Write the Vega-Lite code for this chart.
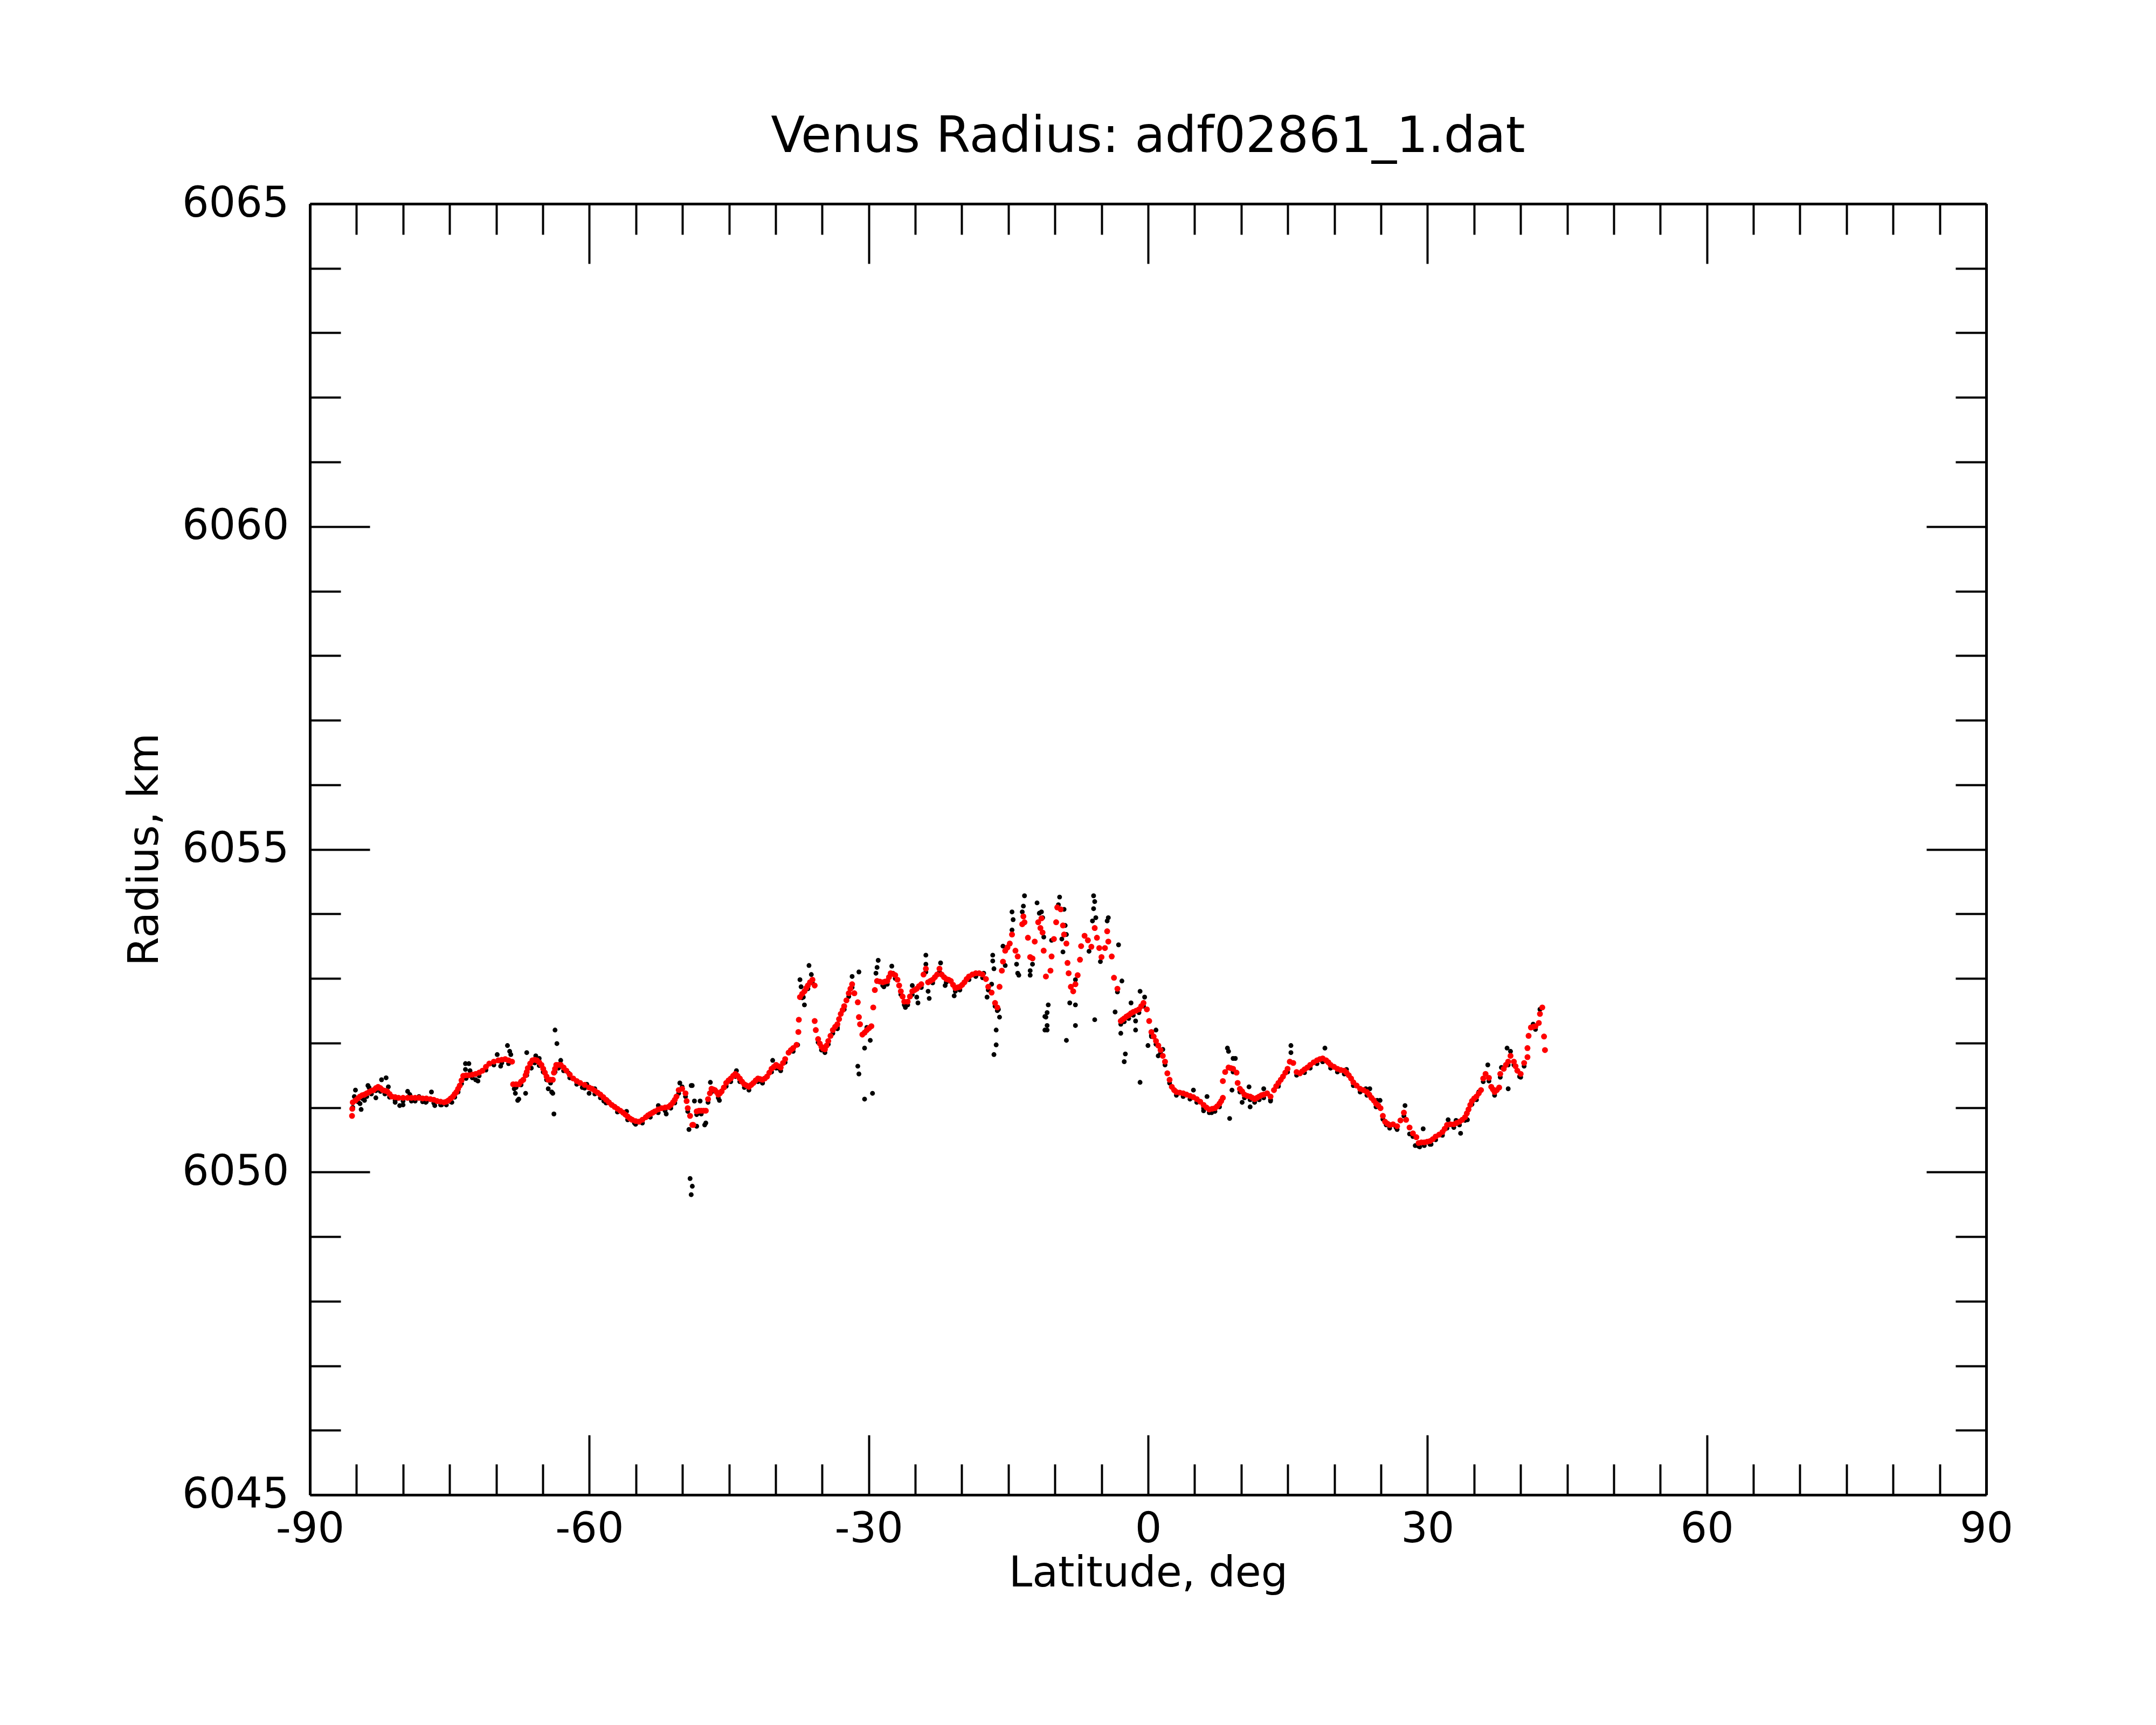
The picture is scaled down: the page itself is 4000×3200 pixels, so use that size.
{
  "$schema": "https://vega.github.io/schema/vega-lite/v6.json",
  "width": 3110,
  "height": 2395,
  "autosize": "none",
  "padding": {"left": 575, "top": 378, "right": 315, "bottom": 427},
  "background": "white",
  "title": {
    "text": "Venus Radius: adf02861_1.dat",
    "font": "DejaVu Sans",
    "fontSize": 92,
    "fontWeight": "normal",
    "color": "black",
    "anchor": "middle",
    "frame": "group",
    "baseline": "alphabetic",
    "offset": -35
  },
  "datasets": {
    "raw": [
      {"lat": -85.40, "r": 6051.00}, {"lat": -84.85, "r": 6051.09}, {"lat": -84.38, "r": 6051.14}, {"lat": -83.90, "r": 6051.17},
      {"lat": -83.40, "r": 6051.21}, {"lat": -82.92, "r": 6051.26}, {"lat": -82.43, "r": 6051.25}, {"lat": -81.95, "r": 6051.21},
      {"lat": -81.45, "r": 6051.16}, {"lat": -80.85, "r": 6051.11}, {"lat": -80.00, "r": 6051.10}, {"lat": -79.10, "r": 6051.10},
      {"lat": -78.70, "r": 6051.10}, {"lat": -77.90, "r": 6051.09}, {"lat": -77.50, "r": 6051.09}, {"lat": -76.70, "r": 6051.07},
      {"lat": -75.97, "r": 6051.04}, {"lat": -75.35, "r": 6051.04}, {"lat": -74.88, "r": 6051.09}, {"lat": -74.45, "r": 6051.16},
      {"lat": -74.09, "r": 6051.24}, {"lat": -73.72, "r": 6051.37}, {"lat": -73.23, "r": 6051.45}, {"lat": -72.56, "r": 6051.46},
      {"lat": -71.83, "r": 6051.49}, {"lat": -71.10, "r": 6051.58}, {"lat": -70.25, "r": 6051.66}, {"lat": -69.40, "r": 6051.69},
      {"lat": -68.67, "r": 6051.68}, {"lat": -67.87, "r": 6051.31}, {"lat": -67.33, "r": 6051.35}, {"lat": -66.72, "r": 6051.50},
      {"lat": -66.35, "r": 6051.63}, {"lat": -65.87, "r": 6051.69}, {"lat": -65.38, "r": 6051.65}, {"lat": -64.95, "r": 6051.55},
      {"lat": -64.59, "r": 6051.43}, {"lat": -64.16, "r": 6051.38}, {"lat": -63.68, "r": 6051.55}, {"lat": -63.31, "r": 6051.61},
      {"lat": -62.76, "r": 6051.57}, {"lat": -62.10, "r": 6051.46}, {"lat": -61.35, "r": 6051.36}, {"lat": -60.50, "r": 6051.30},
      {"lat": -59.41, "r": 6051.21}, {"lat": -58.81, "r": 6051.15}, {"lat": -58.20, "r": 6051.07}, {"lat": -56.98, "r": 6050.93},
      {"lat": -55.88, "r": 6050.81}, {"lat": -55.03, "r": 6050.74}, {"lat": -54.30, "r": 6050.76}, {"lat": -53.45, "r": 6050.85},
      {"lat": -52.60, "r": 6050.92}, {"lat": -51.86, "r": 6050.95}, {"lat": -51.25, "r": 6050.99}, {"lat": -50.82, "r": 6051.07},
      {"lat": -50.40, "r": 6051.22}, {"lat": -49.67, "r": 6051.17}, {"lat": -49.43, "r": 6050.94},
      {"lat": -48.47, "r": 6050.89}, {"lat": -47.98, "r": 6050.90}, {"lat": -47.25, "r": 6051.08}, {"lat": -46.88, "r": 6051.24},
      {"lat": -46.15, "r": 6051.15}, {"lat": -45.30, "r": 6051.33}, {"lat": -44.81, "r": 6051.40}, {"lat": -44.32, "r": 6051.48},
      {"lat": -43.84, "r": 6051.40}, {"lat": -43.35, "r": 6051.31}, {"lat": -42.86, "r": 6051.27}, {"lat": -41.89, "r": 6051.40},
      {"lat": -41.40, "r": 6051.38}, {"lat": -40.43, "r": 6051.55}, {"lat": -39.94, "r": 6051.61}, {"lat": -39.45, "r": 6051.57},
      {"lat": -38.97, "r": 6051.70}, {"lat": -38.11, "r": 6051.87}, {"lat": -37.14, "r": 6052.70}, {"lat": -36.53, "r": 6052.84},
      {"lat": -36.04, "r": 6052.93}, {"lat": -35.43, "r": 6052.01}, {"lat": -35.07, "r": 6051.89}, {"lat": -34.70, "r": 6051.85},
      {"lat": -34.34, "r": 6051.98}, {"lat": -33.85, "r": 6052.15}, {"lat": -33.36, "r": 6052.24}, {"lat": -32.63, "r": 6052.52},
      {"lat": -32.14, "r": 6052.72}, {"lat": -31.78, "r": 6052.86}, {"lat": -28.49, "r": 6052.89}, {"lat": -28.00, "r": 6052.91},
      {"lat": -27.15, "r": 6053.00}, {"lat": -26.55, "r": 6052.75}, {"lat": -26.18, "r": 6052.59}, {"lat": -25.81, "r": 6052.59},
      {"lat": -25.32, "r": 6052.75}, {"lat": -24.35, "r": 6052.86}, {"lat": -23.86, "r": 6053.10}, {"lat": -23.13, "r": 6052.93},
      {"lat": -22.40, "r": 6053.10}, {"lat": -21.67, "r": 6052.94}, {"lat": -20.70, "r": 6052.80}, {"lat": -20.21, "r": 6052.82},
      {"lat": -19.23, "r": 6052.98}, {"lat": -18.50, "r": 6053.03}, {"lat": -17.77, "r": 6053.01}, {"lat": -17.16, "r": 6052.82},
      {"lat": -16.43, "r": 6052.57}, {"lat": -16.19, "r": 6052.50},
      {"lat": -3.29, "r": 6052.79}, {"lat": -2.93, "r": 6052.29}, {"lat": -2.56, "r": 6052.33}, {"lat": -2.08, "r": 6052.38},
      {"lat": -1.59, "r": 6052.43}, {"lat": -0.98, "r": 6052.47}, {"lat": -0.49, "r": 6052.57}, {"lat": 0.36, "r": 6052.12},
      {"lat": 0.85, "r": 6051.98}, {"lat": 1.34, "r": 6051.84}, {"lat": 1.82, "r": 6051.66}, {"lat": 2.31, "r": 6051.38},
      {"lat": 3.04, "r": 6051.19}, {"lat": 3.77, "r": 6051.17}, {"lat": 4.50, "r": 6051.13}, {"lat": 5.23, "r": 6051.08},
      {"lat": 5.96, "r": 6050.99}, {"lat": 6.57, "r": 6050.92}, {"lat": 7.18, "r": 6050.94}, {"lat": 7.67, "r": 6051.01},
      {"lat": 9.13, "r": 6051.55}, {"lat": 9.86, "r": 6051.24}, {"lat": 10.35, "r": 6051.15}, {"lat": 10.96, "r": 6051.12},
      {"lat": 11.44, "r": 6051.08}, {"lat": 11.93, "r": 6051.12}, {"lat": 12.42, "r": 6051.15}, {"lat": 13.15, "r": 6051.12},
      {"lat": 14.00, "r": 6051.33}, {"lat": 14.98, "r": 6051.55}, {"lat": 15.95, "r": 6051.50}, {"lat": 16.80, "r": 6051.54},
      {"lat": 17.41, "r": 6051.61}, {"lat": 18.14, "r": 6051.68}, {"lat": 18.75, "r": 6051.71}, {"lat": 19.60, "r": 6051.61},
      {"lat": 20.33, "r": 6051.55}, {"lat": 21.07, "r": 6051.52}, {"lat": 22.04, "r": 6051.34}, {"lat": 22.77, "r": 6051.24},
      {"lat": 23.50, "r": 6051.19}, {"lat": 24.48, "r": 6051.01}, {"lat": 25.21, "r": 6050.82}, {"lat": 25.94, "r": 6050.68},
      {"lat": 26.74, "r": 6050.66}, {"lat": 27.47, "r": 6050.87}, {"lat": 28.44, "r": 6050.55}, {"lat": 29.05, "r": 6050.40},
      {"lat": 29.66, "r": 6050.41}, {"lat": 30.27, "r": 6050.43}, {"lat": 30.88, "r": 6050.50}, {"lat": 31.61, "r": 6050.57},
      {"lat": 32.10, "r": 6050.68}, {"lat": 32.83, "r": 6050.69}, {"lat": 33.44, "r": 6050.73}, {"lat": 34.04, "r": 6050.80},
      {"lat": 34.78, "r": 6051.05}, {"lat": 35.26, "r": 6051.12}, {"lat": 35.99, "r": 6051.40}, {"lat": 36.60, "r": 6051.41},
      {"lat": 37.21, "r": 6051.19}, {"lat": 37.82, "r": 6051.47}, {"lat": 38.67, "r": 6051.66}, {"lat": 39.28, "r": 6051.66},
      {"lat": 40.01, "r": 6051.47}, {"lat": 40.38, "r": 6051.64}, {"lat": 41.60, "r": 6052.21},

      {"lat": -85.11, "r": 6051.27}, {"lat": -85.23, "r": 6051.17}, {"lat": -84.50, "r": 6050.97}, {"lat": -84.62, "r": 6051.06},
      {"lat": -84.14, "r": 6051.11}, {"lat": -83.77, "r": 6051.34}, {"lat": -83.65, "r": 6051.31}, {"lat": -82.92, "r": 6051.15},
      {"lat": -82.31, "r": 6051.43}, {"lat": -81.82, "r": 6051.46}, {"lat": -81.58, "r": 6051.32}, {"lat": -80.85, "r": 6051.08},
      {"lat": -80.36, "r": 6051.03}, {"lat": -80.00, "r": 6051.04}, {"lat": -79.51, "r": 6051.25}, {"lat": -79.27, "r": 6051.20},
      {"lat": -78.29, "r": 6051.17}, {"lat": -77.56, "r": 6051.08}, {"lat": -76.95, "r": 6051.24}, {"lat": -76.59, "r": 6051.03},
      {"lat": -75.86, "r": 6051.04}, {"lat": -74.76, "r": 6051.08}, {"lat": -73.30, "r": 6051.68}, {"lat": -72.93, "r": 6051.68},
      {"lat": -73.30, "r": 6051.59}, {"lat": -72.81, "r": 6051.57}, {"lat": -72.20, "r": 6051.43}, {"lat": -71.96, "r": 6051.41},
      {"lat": -69.89, "r": 6051.82}, {"lat": -69.52, "r": 6051.64}, {"lat": -68.79, "r": 6051.96}, {"lat": -68.55, "r": 6051.87},
      {"lat": -68.43, "r": 6051.82}, {"lat": -68.06, "r": 6051.29}, {"lat": -67.94, "r": 6051.22}, {"lat": -67.69, "r": 6051.11},
      {"lat": -67.57, "r": 6051.13}, {"lat": -66.84, "r": 6051.22}, {"lat": -66.72, "r": 6051.85}, {"lat": -66.23, "r": 6051.61},
      {"lat": -65.75, "r": 6051.80}, {"lat": -65.38, "r": 6051.76}, {"lat": -64.41, "r": 6051.29}, {"lat": -64.04, "r": 6051.24},
      {"lat": -63.92, "r": 6051.22}, {"lat": -63.80, "r": 6050.90}, {"lat": -63.68, "r": 6052.20}, {"lat": -63.48, "r": 6051.99},
      {"lat": -63.07, "r": 6051.73}, {"lat": -62.21, "r": 6051.53}, {"lat": -60.75, "r": 6051.31}, {"lat": -60.27, "r": 6051.36},
      {"lat": -60.02, "r": 6051.22}, {"lat": -59.41, "r": 6051.29}, {"lat": -58.44, "r": 6051.10}, {"lat": -58.07, "r": 6051.11},
      {"lat": -56.00, "r": 6050.94}, {"lat": -55.15, "r": 6050.76}, {"lat": -52.59, "r": 6051.03}, {"lat": -52.47, "r": 6050.99},
      {"lat": -51.74, "r": 6050.90}, {"lat": -50.28, "r": 6051.38}, {"lat": -50.03, "r": 6051.32}, {"lat": -49.30, "r": 6050.66},
      {"lat": -49.06, "r": 6051.34}, {"lat": -49.18, "r": 6049.90}, {"lat": -48.94, "r": 6049.78}, {"lat": -49.06, "r": 6049.65},
      {"lat": -48.95, "r": 6051.34}, {"lat": -48.71, "r": 6051.10}, {"lat": -48.10, "r": 6051.10}, {"lat": -48.47, "r": 6050.71},
      {"lat": -47.61, "r": 6050.73}, {"lat": -47.49, "r": 6050.76}, {"lat": -47.00, "r": 6051.39}, {"lat": -46.03, "r": 6051.11},
      {"lat": -44.20, "r": 6051.57}, {"lat": -42.86, "r": 6051.31}, {"lat": -41.40, "r": 6051.38}, {"lat": -40.31, "r": 6051.73},
      {"lat": -39.70, "r": 6051.61}, {"lat": -36.41, "r": 6053.20}, {"lat": -37.38, "r": 6052.98}, {"lat": -37.26, "r": 6052.87},
      {"lat": -37.02, "r": 6052.71}, {"lat": -36.90, "r": 6052.59}, {"lat": -36.16, "r": 6053.06}, {"lat": -37.63, "r": 6051.97},
      {"lat": -34.70, "r": 6051.89}, {"lat": -33.36, "r": 6052.22}, {"lat": -31.78, "r": 6053.03}, {"lat": -31.05, "r": 6053.10},
      {"lat": -31.17, "r": 6051.64}, {"lat": -31.05, "r": 6051.52}, {"lat": -30.44, "r": 6051.13}, {"lat": -29.59, "r": 6051.22},
      {"lat": -30.44, "r": 6051.92}, {"lat": -29.83, "r": 6052.04}, {"lat": -30.20, "r": 6052.24}, {"lat": -28.98, "r": 6053.28},
      {"lat": -29.10, "r": 6053.17}, {"lat": -29.22, "r": 6053.08}, {"lat": -28.37, "r": 6052.87}, {"lat": -27.52, "r": 6053.19},
      {"lat": -27.40, "r": 6053.08}, {"lat": -26.06, "r": 6052.55}, {"lat": -25.32, "r": 6052.89}, {"lat": -24.84, "r": 6052.71},
      {"lat": -24.71, "r": 6052.62}, {"lat": -23.62, "r": 6052.80}, {"lat": -23.50, "r": 6052.69}, {"lat": -23.86, "r": 6053.36},
      {"lat": -23.86, "r": 6053.22}, {"lat": -22.28, "r": 6053.24}, {"lat": -21.79, "r": 6052.89}, {"lat": -20.82, "r": 6052.73},
      {"lat": -17.65, "r": 6053.08}, {"lat": -17.29, "r": 6052.71}, {"lat": -16.68, "r": 6053.36}, {"lat": -16.68, "r": 6053.27},
      {"lat": -16.55, "r": 6053.15}, {"lat": -16.80, "r": 6052.91}, {"lat": -16.07, "r": 6052.52}, {"lat": -15.95, "r": 6052.40},
      {"lat": -16.31, "r": 6052.20}, {"lat": -16.31, "r": 6051.97}, {"lat": -16.55, "r": 6051.82}, {"lat": -15.58, "r": 6053.50},
      {"lat": -15.34, "r": 6053.20}, {"lat": -14.61, "r": 6054.03}, {"lat": -14.49, "r": 6053.91}, {"lat": -14.61, "r": 6053.75},
      {"lat": -14.12, "r": 6053.22}, {"lat": -14.00, "r": 6053.08}, {"lat": -13.88, "r": 6053.05}, {"lat": -13.27, "r": 6054.28},
      {"lat": -13.39, "r": 6054.12}, {"lat": -13.51, "r": 6054.03}, {"lat": -12.66, "r": 6053.12}, {"lat": -12.41, "r": 6053.22},
      {"lat": -12.66, "r": 6053.05}, {"lat": -11.92, "r": 6054.17}, {"lat": -11.68, "r": 6054.01}, {"lat": -11.32, "r": 6053.94},
      {"lat": -11.20, "r": 6053.64}, {"lat": -11.08, "r": 6052.41}, {"lat": -11.08, "r": 6052.20},
      {"lat": -9.50, "r": 6054.26}, {"lat": -9.63, "r": 6054.14}, {"lat": -9.02, "r": 6054.07}, {"lat": -8.90, "r": 6053.82},
      {"lat": -9.26, "r": 6053.61}, {"lat": -9.14, "r": 6053.41}, {"lat": -11.45, "r": 6054.03}, {"lat": -10.36, "r": 6053.59},
      {"lat": -8.77, "r": 6053.68}, {"lat": -5.85, "r": 6054.28}, {"lat": -5.73, "r": 6054.19}, {"lat": -5.85, "r": 6054.08},
      {"lat": -5.61, "r": 6053.94}, {"lat": -5.97, "r": 6053.89}, {"lat": -4.27, "r": 6053.94}, {"lat": -4.39, "r": 6053.89},
      {"lat": -3.17, "r": 6053.52}, {"lat": -6.34, "r": 6053.42}, {"lat": -5.12, "r": 6053.26}, {"lat": -7.80, "r": 6052.98},
      {"lat": -8.41, "r": 6052.62}, {"lat": -7.80, "r": 6052.59}, {"lat": -7.80, "r": 6052.27}, {"lat": -8.77, "r": 6052.04},
      {"lat": -10.72, "r": 6052.59}, {"lat": -10.84, "r": 6052.47}, {"lat": -10.97, "r": 6052.40}, {"lat": -10.84, "r": 6052.27},
      {"lat": -10.84, "r": 6052.20}, {"lat": -5.73, "r": 6052.36}, {"lat": -3.54, "r": 6052.48}, {"lat": -2.93, "r": 6052.15},
      {"lat": -2.81, "r": 6052.96}, {"lat": -1.83, "r": 6052.62}, {"lat": -1.34, "r": 6052.34}, {"lat": -1.34, "r": 6052.20},
      {"lat": -0.86, "r": 6052.80}, {"lat": -0.37, "r": 6052.71}, {"lat": -0.01, "r": 6051.96}, {"lat": -2.44, "r": 6051.83},
      {"lat": -2.56, "r": 6051.71}, {"lat": -0.86, "r": 6051.39}, {"lat": 0.36, "r": 6052.10}, {"lat": 0.85, "r": 6052.20},
      {"lat": 1.09, "r": 6051.80}, {"lat": 1.58, "r": 6051.90}, {"lat": 8.52, "r": 6051.92}, {"lat": 8.64, "r": 6051.87},
      {"lat": 9.13, "r": 6051.76}, {"lat": 9.37, "r": 6051.76}, {"lat": 9.01, "r": 6051.27}, {"lat": 8.76, "r": 6050.83},
      {"lat": 10.10, "r": 6051.08}, {"lat": 10.84, "r": 6051.32}, {"lat": 10.96, "r": 6051.01}, {"lat": 12.42, "r": 6051.29},
      {"lat": 13.15, "r": 6051.10}, {"lat": 15.34, "r": 6051.96}, {"lat": 15.34, "r": 6051.85}, {"lat": 18.99, "r": 6051.92},
      {"lat": 18.75, "r": 6051.71}, {"lat": 4.87, "r": 6051.27}, {"lat": 6.33, "r": 6051.17}, {"lat": 5.96, "r": 6050.95},
      {"lat": 6.82, "r": 6050.92}, {"lat": 23.38, "r": 6051.29}, {"lat": 24.60, "r": 6051.11}, {"lat": 21.31, "r": 6051.59},
      {"lat": 25.57, "r": 6050.73},
      {"lat": 23.81, "r": 6051.29}, {"lat": 24.91, "r": 6051.11}, {"lat": 26.62, "r": 6050.69}, {"lat": 27.59, "r": 6051.03},
      {"lat": 28.08, "r": 6050.59}, {"lat": 28.69, "r": 6050.41}, {"lat": 29.17, "r": 6050.39}, {"lat": 29.54, "r": 6050.67},
      {"lat": 30.39, "r": 6050.43}, {"lat": 32.22, "r": 6050.81}, {"lat": 33.07, "r": 6050.80}, {"lat": 33.56, "r": 6050.60},
      {"lat": 34.29, "r": 6050.81}, {"lat": 35.51, "r": 6051.24}, {"lat": 36.48, "r": 6051.66}, {"lat": 38.55, "r": 6051.92},
      {"lat": 38.92, "r": 6051.87}, {"lat": 38.67, "r": 6051.29}, {"lat": 39.89, "r": 6051.48}, {"lat": 37.94, "r": 6051.62},
      {"lat": 41.35, "r": 6052.29}, {"lat": 42.08, "r": 6052.52}
    ],
    "fit": [
      {"lat": -85.48, "r": 6050.87}, {"lat": -85.45, "r": 6050.98}, {"lat": -85.40, "r": 6051.08}, {"lat": -85.11, "r": 6051.11},
      {"lat": -84.85, "r": 6051.14}, {"lat": -84.63, "r": 6051.17}, {"lat": -84.38, "r": 6051.19}, {"lat": -84.14, "r": 6051.20},
      {"lat": -83.90, "r": 6051.22}, {"lat": -83.65, "r": 6051.24}, {"lat": -83.40, "r": 6051.26}, {"lat": -83.16, "r": 6051.27},
      {"lat": -82.92, "r": 6051.30}, {"lat": -82.68, "r": 6051.32}, {"lat": -82.43, "r": 6051.30}, {"lat": -82.19, "r": 6051.27},
      {"lat": -81.95, "r": 6051.26}, {"lat": -81.70, "r": 6051.25}, {"lat": -81.45, "r": 6051.21}, {"lat": -81.21, "r": 6051.17},
      {"lat": -80.85, "r": 6051.16}, {"lat": -80.48, "r": 6051.15}, {"lat": -80.00, "r": 6051.15}, {"lat": -79.51, "r": 6051.15},
      {"lat": -79.10, "r": 6051.15}, {"lat": -78.70, "r": 6051.15}, {"lat": -78.29, "r": 6051.15}, {"lat": -77.90, "r": 6051.14},
      {"lat": -77.50, "r": 6051.14}, {"lat": -77.07, "r": 6051.13}, {"lat": -76.70, "r": 6051.12}, {"lat": -76.34, "r": 6051.10},
      {"lat": -75.97, "r": 6051.09}, {"lat": -75.61, "r": 6051.08}, {"lat": -75.35, "r": 6051.09}, {"lat": -75.12, "r": 6051.11},
      {"lat": -74.88, "r": 6051.14}, {"lat": -74.64, "r": 6051.17}, {"lat": -74.45, "r": 6051.21}, {"lat": -74.27, "r": 6051.24},
      {"lat": -74.09, "r": 6051.29}, {"lat": -73.91, "r": 6051.34}, {"lat": -73.72, "r": 6051.42}, {"lat": -73.54, "r": 6051.49},
      {"lat": -73.23, "r": 6051.50}, {"lat": -72.93, "r": 6051.50}, {"lat": -72.56, "r": 6051.51}, {"lat": -72.20, "r": 6051.52},
      {"lat": -71.83, "r": 6051.54}, {"lat": -71.47, "r": 6051.57}, {"lat": -71.10, "r": 6051.63}, {"lat": -70.74, "r": 6051.68},
      {"lat": -70.25, "r": 6051.71}, {"lat": -69.77, "r": 6051.73}, {"lat": -69.40, "r": 6051.74}, {"lat": -69.03, "r": 6051.75},
      {"lat": -68.67, "r": 6051.73}, {"lat": -68.30, "r": 6051.71},
      {"lat": -68.18, "r": 6051.36}, {"lat": -67.87, "r": 6051.36}, {"lat": -67.57, "r": 6051.36}, {"lat": -67.33, "r": 6051.40},
      {"lat": -67.09, "r": 6051.43}, {"lat": -66.84, "r": 6051.50}, {"lat": -66.72, "r": 6051.55}, {"lat": -66.60, "r": 6051.61},
      {"lat": -66.35, "r": 6051.68}, {"lat": -66.11, "r": 6051.73}, {"lat": -65.87, "r": 6051.74}, {"lat": -65.63, "r": 6051.73},
      {"lat": -65.38, "r": 6051.70}, {"lat": -65.14, "r": 6051.66}, {"lat": -64.95, "r": 6051.60}, {"lat": -64.77, "r": 6051.54},
      {"lat": -64.59, "r": 6051.48}, {"lat": -64.41, "r": 6051.43}, {"lat": -64.16, "r": 6051.43}, {"lat": -63.92, "r": 6051.43},
      {"lat": -63.80, "r": 6051.54}, {"lat": -63.68, "r": 6051.60}, {"lat": -63.55, "r": 6051.66}, {"lat": -63.31, "r": 6051.66},
      {"lat": -63.07, "r": 6051.66}, {"lat": -62.76, "r": 6051.62}, {"lat": -62.46, "r": 6051.57}, {"lat": -62.10, "r": 6051.51},
      {"lat": -61.73, "r": 6051.45}, {"lat": -61.35, "r": 6051.41}, {"lat": -60.98, "r": 6051.38}, {"lat": -60.50, "r": 6051.35},
      {"lat": -60.02, "r": 6051.31}, {"lat": -59.71, "r": 6051.29}, {"lat": -59.41, "r": 6051.26}, {"lat": -59.11, "r": 6051.23},
      {"lat": -58.81, "r": 6051.20}, {"lat": -58.50, "r": 6051.16}, {"lat": -58.20, "r": 6051.12}, {"lat": -57.90, "r": 6051.08},
      {"lat": -57.59, "r": 6051.04}, {"lat": -57.28, "r": 6051.01}, {"lat": -56.98, "r": 6050.98}, {"lat": -56.67, "r": 6050.95},
      {"lat": -56.37, "r": 6050.92}, {"lat": -56.12, "r": 6050.89}, {"lat": -55.88, "r": 6050.86}, {"lat": -55.63, "r": 6050.83},
      {"lat": -55.39, "r": 6050.81}, {"lat": -55.03, "r": 6050.79}, {"lat": -54.66, "r": 6050.78}, {"lat": -54.30, "r": 6050.81},
      {"lat": -53.93, "r": 6050.85}, {"lat": -53.69, "r": 6050.88}, {"lat": -53.45, "r": 6050.90}, {"lat": -53.20, "r": 6050.92},
      {"lat": -52.96, "r": 6050.94}, {"lat": -52.60, "r": 6050.97}, {"lat": -52.23, "r": 6050.99}, {"lat": -51.86, "r": 6051.00},
      {"lat": -51.50, "r": 6051.01}, {"lat": -51.25, "r": 6051.04}, {"lat": -51.01, "r": 6051.08}, {"lat": -50.82, "r": 6051.12},
      {"lat": -50.64, "r": 6051.17}, {"lat": -50.40, "r": 6051.27}, {"lat": -50.03, "r": 6051.29}, {"lat": -49.67, "r": 6051.22},
      {"lat": -49.55, "r": 6051.10}, {"lat": -49.43, "r": 6050.99}, {"lat": -49.18, "r": 6050.87}, {"lat": -48.94, "r": 6050.73},
      {"lat": -48.83, "r": 6050.73}, {"lat": -48.47, "r": 6050.94}, {"lat": -48.22, "r": 6050.95}, {"lat": -47.98, "r": 6050.95},
      {"lat": -47.73, "r": 6050.95}, {"lat": -47.49, "r": 6050.95}, {"lat": -47.25, "r": 6051.13}, {"lat": -47.05, "r": 6051.22},
      {"lat": -46.88, "r": 6051.29}, {"lat": -46.70, "r": 6051.28}, {"lat": -46.52, "r": 6051.27}, {"lat": -46.33, "r": 6051.24},
      {"lat": -46.15, "r": 6051.20}, {"lat": -45.97, "r": 6051.22}, {"lat": -45.79, "r": 6051.25}, {"lat": -45.55, "r": 6051.31},
      {"lat": -45.30, "r": 6051.38}, {"lat": -45.05, "r": 6051.42}, {"lat": -44.81, "r": 6051.45}, {"lat": -44.56, "r": 6051.49},
      {"lat": -44.32, "r": 6051.52}, {"lat": -44.08, "r": 6051.49}, {"lat": -43.84, "r": 6051.45}, {"lat": -43.60, "r": 6051.40},
      {"lat": -43.35, "r": 6051.36}, {"lat": -43.10, "r": 6051.34}, {"lat": -42.86, "r": 6051.32}, {"lat": -42.62, "r": 6051.35},
      {"lat": -42.38, "r": 6051.38}, {"lat": -42.13, "r": 6051.42}, {"lat": -41.89, "r": 6051.45}, {"lat": -41.65, "r": 6051.44},
      {"lat": -41.40, "r": 6051.43}, {"lat": -41.15, "r": 6051.45}, {"lat": -40.91, "r": 6051.48}, {"lat": -40.67, "r": 6051.54},
      {"lat": -40.43, "r": 6051.60}, {"lat": -40.18, "r": 6051.63}, {"lat": -39.94, "r": 6051.66}, {"lat": -39.70, "r": 6051.64},
      {"lat": -39.45, "r": 6051.62}, {"lat": -39.20, "r": 6051.69}, {"lat": -38.97, "r": 6051.75}, {"lat": -38.60, "r": 6051.85},
      {"lat": -38.35, "r": 6051.89}, {"lat": -38.11, "r": 6051.92}, {"lat": -37.75, "r": 6051.97}, {"lat": -37.55, "r": 6052.17},
      {"lat": -37.50, "r": 6052.36}, {"lat": -37.38, "r": 6052.71}, {"lat": -37.14, "r": 6052.76}, {"lat": -36.90, "r": 6052.80},
      {"lat": -36.70, "r": 6052.85}, {"lat": -36.53, "r": 6052.89}, {"lat": -36.30, "r": 6052.94}, {"lat": -36.04, "r": 6052.98},
      {"lat": -35.80, "r": 6052.89},
      {"lat": -35.80, "r": 6052.34}, {"lat": -35.68, "r": 6052.20}, {"lat": -35.43, "r": 6052.06}, {"lat": -35.25, "r": 6051.99},
      {"lat": -35.07, "r": 6051.94}, {"lat": -34.88, "r": 6051.91}, {"lat": -34.70, "r": 6051.90}, {"lat": -34.52, "r": 6051.96},
      {"lat": -34.34, "r": 6052.03}, {"lat": -34.10, "r": 6052.11}, {"lat": -33.85, "r": 6052.20}, {"lat": -33.60, "r": 6052.25},
      {"lat": -33.36, "r": 6052.29}, {"lat": -33.18, "r": 6052.37}, {"lat": -33.00, "r": 6052.45}, {"lat": -32.80, "r": 6052.51},
      {"lat": -32.63, "r": 6052.57}, {"lat": -32.39, "r": 6052.66}, {"lat": -32.14, "r": 6052.77}, {"lat": -31.96, "r": 6052.84},
      {"lat": -31.78, "r": 6052.91}, {"lat": -31.54, "r": 6052.77}, {"lat": -31.17, "r": 6052.63}, {"lat": -31.05, "r": 6052.40},
      {"lat": -30.93, "r": 6052.29}, {"lat": -30.68, "r": 6052.13}, {"lat": -30.44, "r": 6052.16}, {"lat": -30.20, "r": 6052.20},
      {"lat": -29.95, "r": 6052.23}, {"lat": -29.71, "r": 6052.26}, {"lat": -29.51, "r": 6052.55}, {"lat": -29.34, "r": 6052.82},
      {"lat": -29.10, "r": 6052.96}, {"lat": -28.80, "r": 6052.95}, {"lat": -28.49, "r": 6052.94}, {"lat": -28.25, "r": 6052.95},
      {"lat": -28.00, "r": 6052.96}, {"lat": -27.82, "r": 6053.02}, {"lat": -27.64, "r": 6053.08}, {"lat": -27.40, "r": 6053.07},
      {"lat": -27.15, "r": 6053.05}, {"lat": -26.91, "r": 6052.98}, {"lat": -26.73, "r": 6052.89}, {"lat": -26.55, "r": 6052.80},
      {"lat": -26.36, "r": 6052.72}, {"lat": -26.18, "r": 6052.64}, {"lat": -25.81, "r": 6052.64}, {"lat": -25.57, "r": 6052.72},
      {"lat": -25.32, "r": 6052.80}, {"lat": -25.08, "r": 6052.82}, {"lat": -24.84, "r": 6052.84}, {"lat": -24.60, "r": 6052.88},
      {"lat": -24.35, "r": 6052.91}, {"lat": -24.11, "r": 6053.06}, {"lat": -23.86, "r": 6053.15}, {"lat": -23.62, "r": 6052.94},
      {"lat": -23.38, "r": 6052.96}, {"lat": -23.13, "r": 6052.98}, {"lat": -22.89, "r": 6053.02}, {"lat": -22.65, "r": 6053.06},
      {"lat": -22.40, "r": 6053.15}, {"lat": -22.16, "r": 6053.06}, {"lat": -21.91, "r": 6053.02}, {"lat": -21.67, "r": 6052.99},
      {"lat": -21.43, "r": 6052.98}, {"lat": -21.18, "r": 6052.96}, {"lat": -20.94, "r": 6052.90}, {"lat": -20.70, "r": 6052.85},
      {"lat": -20.45, "r": 6052.86}, {"lat": -20.21, "r": 6052.87}, {"lat": -19.96, "r": 6052.90}, {"lat": -19.72, "r": 6052.94},
      {"lat": -19.48, "r": 6052.99}, {"lat": -19.23, "r": 6053.03}, {"lat": -18.87, "r": 6053.06}, {"lat": -18.50, "r": 6053.08},
      {"lat": -18.14, "r": 6053.08}, {"lat": -17.77, "r": 6053.06}, {"lat": -17.41, "r": 6052.99}, {"lat": -17.16, "r": 6052.87},
      {"lat": -16.80, "r": 6052.78}, {"lat": -16.43, "r": 6052.62}, {"lat": -16.19, "r": 6052.55}, {"lat": -15.95, "r": 6052.87},
      {"lat": -15.70, "r": 6053.12}, {"lat": -15.58, "r": 6053.26}, {"lat": -15.34, "r": 6053.43}, {"lat": -15.10, "r": 6053.48},
      {"lat": -14.85, "r": 6053.54}, {"lat": -14.61, "r": 6053.68}, {"lat": -14.24, "r": 6053.43}, {"lat": -14.00, "r": 6053.34},
      {"lat": -13.51, "r": 6053.84}, {"lat": -13.39, "r": 6053.96}, {"lat": -13.27, "r": 6053.87}, {"lat": -12.90, "r": 6053.63},
      {"lat": -12.66, "r": 6053.33}, {"lat": -12.41, "r": 6053.31}, {"lat": -12.17, "r": 6053.57}, {"lat": -11.80, "r": 6053.87},
      {"lat": -11.56, "r": 6053.78}, {"lat": -11.45, "r": 6053.93}, {"lat": -11.33, "r": 6053.71}, {"lat": -11.21, "r": 6053.43},
      {"lat": -10.97, "r": 6053.03}, {"lat": -10.48, "r": 6053.12}, {"lat": -10.36, "r": 6053.34}, {"lat": -10.11, "r": 6053.61},
      {"lat": -9.87, "r": 6053.87}, {"lat": -9.75, "r": 6054.10}, {"lat": -9.38, "r": 6054.07}, {"lat": -9.14, "r": 6053.82},
      {"lat": -9.02, "r": 6053.68}, {"lat": -8.77, "r": 6053.54}, {"lat": -8.65, "r": 6053.24}, {"lat": -8.53, "r": 6053.08},
      {"lat": -8.29, "r": 6052.87}, {"lat": -8.04, "r": 6052.80}, {"lat": -7.80, "r": 6052.91}, {"lat": -7.56, "r": 6053.05},
      {"lat": -7.31, "r": 6053.29}, {"lat": -7.19, "r": 6053.50}, {"lat": -6.82, "r": 6053.66}, {"lat": -6.46, "r": 6053.59},
      {"lat": -6.09, "r": 6053.49}, {"lat": -5.73, "r": 6053.78}, {"lat": -5.49, "r": 6053.63}, {"lat": -5.24, "r": 6053.47},
      {"lat": -5.00, "r": 6053.33}, {"lat": -4.63, "r": 6053.47}, {"lat": -4.39, "r": 6053.73}, {"lat": -4.27, "r": 6053.57},
      {"lat": -3.90, "r": 6053.34}, {"lat": -3.66, "r": 6053.01}, {"lat": -3.29, "r": 6052.84},
      {"lat": -2.93, "r": 6052.34}, {"lat": -2.75, "r": 6052.36}, {"lat": -2.56, "r": 6052.38}, {"lat": -2.32, "r": 6052.41},
      {"lat": -2.08, "r": 6052.43}, {"lat": -1.83, "r": 6052.46}, {"lat": -1.59, "r": 6052.48}, {"lat": -1.28, "r": 6052.50},
      {"lat": -0.98, "r": 6052.52}, {"lat": -0.73, "r": 6052.57}, {"lat": -0.49, "r": 6052.62}, {"lat": -0.13, "r": 6052.52},
      {"lat": 0.12, "r": 6052.34}, {"lat": 0.36, "r": 6052.17}, {"lat": 0.60, "r": 6052.10}, {"lat": 0.85, "r": 6052.03},
      {"lat": 1.10, "r": 6051.96}, {"lat": 1.34, "r": 6051.89}, {"lat": 1.58, "r": 6051.80}, {"lat": 1.82, "r": 6051.71},
      {"lat": 2.07, "r": 6051.53}, {"lat": 2.31, "r": 6051.43}, {"lat": 2.55, "r": 6051.32}, {"lat": 2.80, "r": 6051.27},
      {"lat": 3.04, "r": 6051.24}, {"lat": 3.40, "r": 6051.23}, {"lat": 3.77, "r": 6051.22}, {"lat": 4.13, "r": 6051.20},
      {"lat": 4.50, "r": 6051.18}, {"lat": 4.86, "r": 6051.16}, {"lat": 5.23, "r": 6051.13}, {"lat": 5.60, "r": 6051.09},
      {"lat": 5.96, "r": 6051.04}, {"lat": 6.27, "r": 6051.00}, {"lat": 6.57, "r": 6050.97}, {"lat": 6.88, "r": 6050.98},
      {"lat": 7.18, "r": 6050.99}, {"lat": 7.42, "r": 6051.02}, {"lat": 7.67, "r": 6051.06}, {"lat": 7.85, "r": 6051.10},
      {"lat": 8.03, "r": 6051.15},
      {"lat": 8.03, "r": 6051.41}, {"lat": 8.28, "r": 6051.55}, {"lat": 8.64, "r": 6051.62}, {"lat": 8.89, "r": 6051.61},
      {"lat": 9.13, "r": 6051.60}, {"lat": 9.50, "r": 6051.54}, {"lat": 9.62, "r": 6051.38}, {"lat": 9.86, "r": 6051.29},
      {"lat": 10.10, "r": 6051.25}, {"lat": 10.35, "r": 6051.20}, {"lat": 10.65, "r": 6051.18}, {"lat": 10.96, "r": 6051.17},
      {"lat": 11.20, "r": 6051.15}, {"lat": 11.44, "r": 6051.13}, {"lat": 11.69, "r": 6051.15}, {"lat": 11.93, "r": 6051.17},
      {"lat": 12.18, "r": 6051.19}, {"lat": 12.42, "r": 6051.20}, {"lat": 12.78, "r": 6051.22}, {"lat": 13.15, "r": 6051.17},
      {"lat": 13.52, "r": 6051.27}, {"lat": 13.76, "r": 6051.33}, {"lat": 14.00, "r": 6051.38}, {"lat": 14.25, "r": 6051.43},
      {"lat": 14.49, "r": 6051.48}, {"lat": 14.74, "r": 6051.54}, {"lat": 14.98, "r": 6051.60}, {"lat": 15.22, "r": 6051.71},
      {"lat": 15.59, "r": 6051.69}, {"lat": 15.95, "r": 6051.55}, {"lat": 16.31, "r": 6051.53}, {"lat": 16.55, "r": 6051.56},
      {"lat": 16.80, "r": 6051.59}, {"lat": 17.10, "r": 6051.62}, {"lat": 17.41, "r": 6051.66}, {"lat": 17.78, "r": 6051.70},
      {"lat": 18.14, "r": 6051.73}, {"lat": 18.45, "r": 6051.75}, {"lat": 18.75, "r": 6051.76}, {"lat": 19.12, "r": 6051.73},
      {"lat": 19.36, "r": 6051.70}, {"lat": 19.60, "r": 6051.66}, {"lat": 19.97, "r": 6051.63}, {"lat": 20.33, "r": 6051.60},
      {"lat": 20.70, "r": 6051.58}, {"lat": 21.07, "r": 6051.57}, {"lat": 21.31, "r": 6051.54}, {"lat": 21.55, "r": 6051.50},
      {"lat": 21.80, "r": 6051.45}, {"lat": 22.04, "r": 6051.39}, {"lat": 22.40, "r": 6051.34}, {"lat": 22.77, "r": 6051.29},
      {"lat": 23.13, "r": 6051.27}, {"lat": 23.50, "r": 6051.24}, {"lat": 23.75, "r": 6051.20}, {"lat": 23.99, "r": 6051.15},
      {"lat": 24.24, "r": 6051.11}, {"lat": 24.48, "r": 6051.06}, {"lat": 24.72, "r": 6051.03}, {"lat": 24.96, "r": 6050.99},
      {"lat": 25.21, "r": 6050.87}, {"lat": 25.45, "r": 6050.78}, {"lat": 25.70, "r": 6050.75}, {"lat": 25.94, "r": 6050.73},
      {"lat": 26.30, "r": 6050.74}, {"lat": 26.74, "r": 6050.71}, {"lat": 27.10, "r": 6050.80}, {"lat": 27.47, "r": 6050.92},
      {"lat": 27.71, "r": 6050.81}, {"lat": 28.08, "r": 6050.69}, {"lat": 28.44, "r": 6050.60}, {"lat": 28.81, "r": 6050.54},
      {"lat": 29.05, "r": 6050.45}, {"lat": 29.35, "r": 6050.46}, {"lat": 29.66, "r": 6050.46}, {"lat": 29.97, "r": 6050.47},
      {"lat": 30.27, "r": 6050.48}, {"lat": 30.58, "r": 6050.51}, {"lat": 30.88, "r": 6050.55}, {"lat": 31.25, "r": 6050.58},
      {"lat": 31.61, "r": 6050.62}, {"lat": 31.85, "r": 6050.67}, {"lat": 32.10, "r": 6050.73}, {"lat": 32.46, "r": 6050.74},
      {"lat": 32.83, "r": 6050.74}, {"lat": 33.13, "r": 6050.76}, {"lat": 33.44, "r": 6050.78}, {"lat": 33.74, "r": 6050.81},
      {"lat": 34.04, "r": 6050.85}, {"lat": 34.23, "r": 6050.91}, {"lat": 34.41, "r": 6050.97}, {"lat": 34.60, "r": 6051.04},
      {"lat": 34.78, "r": 6051.10}, {"lat": 35.02, "r": 6051.14}, {"lat": 35.26, "r": 6051.17}, {"lat": 35.51, "r": 6051.22},
      {"lat": 35.75, "r": 6051.27}, {"lat": 35.99, "r": 6051.45}, {"lat": 36.24, "r": 6051.52}, {"lat": 36.60, "r": 6051.46},
      {"lat": 36.85, "r": 6051.32}, {"lat": 37.03, "r": 6051.28}, {"lat": 37.21, "r": 6051.24}, {"lat": 37.45, "r": 6051.27},
      {"lat": 37.70, "r": 6051.31}, {"lat": 37.82, "r": 6051.52}, {"lat": 38.19, "r": 6051.60}, {"lat": 38.43, "r": 6051.66},
      {"lat": 38.67, "r": 6051.71}, {"lat": 38.92, "r": 6051.80}, {"lat": 39.28, "r": 6051.71}, {"lat": 39.46, "r": 6051.64},
      {"lat": 39.65, "r": 6051.57}, {"lat": 40.01, "r": 6051.52}, {"lat": 40.38, "r": 6051.69}, {"lat": 40.74, "r": 6051.78},
      {"lat": 40.74, "r": 6051.92}, {"lat": 40.86, "r": 6052.11}, {"lat": 41.11, "r": 6052.24}, {"lat": 41.35, "r": 6052.25},
      {"lat": 41.60, "r": 6052.26}, {"lat": 41.96, "r": 6052.31}, {"lat": 42.08, "r": 6052.45}, {"lat": 42.33, "r": 6052.55},
      {"lat": 42.52, "r": 6052.10}, {"lat": 42.62, "r": 6051.89}
    ]
  },
  "layer": [
    {
      "data": {"name": "raw"},
      "mark": {"type": "point", "shape": "circle", "filled": true, "size": 80, "color": "#000000", "opacity": 1, "strokeWidth": 0},
      "encoding": {
        "x": {
          "field": "lat",
          "type": "quantitative",
          "scale": {"domain": [-90, 90], "nice": false, "zero": false},
          "axis": {
            "orient": "bottom",
            "title": "Latitude, deg",
            "values": [-90, -85, -80, -75, -70, -65, -60, -55, -50, -45, -40, -35, -30, -25, -20, -15, -10, -5, 0, 5, 10, 15, 20, 25, 30, 35, 40, 45, 50, 55, 60, 65, 70, 75, 80, 85, 90],
            "labelExpr": "datum.value % 30 === 0 ? '' + datum.value : ''",
            "tickSize": {"condition": {"test": "datum.value % 30 === 0", "value": -111}, "value": -57},
            "labelPadding": 136,
            "labelBaseline": "top",
            "titlePadding": -50
          }
        },
        "y": {
          "field": "r",
          "type": "quantitative",
          "scale": {"domain": [6045, 6065], "nice": false, "zero": false},
          "axis": {
            "orient": "left",
            "title": "Radius, km",
            "values": [6045, 6046, 6047, 6048, 6049, 6050, 6051, 6052, 6053, 6054, 6055, 6056, 6057, 6058, 6059, 6060, 6061, 6062, 6063, 6064, 6065],
            "labelExpr": "datum.value % 5 === 0 ? '' + datum.value : ''",
            "tickSize": {"condition": {"test": "datum.value % 5 === 0", "value": -111}, "value": -57},
            "labelPadding": 150,
            "labelLimit": 0,
            "labelBaseline": "middle",
            "titlePadding": 67
          }
        }
      }
    },
    {
      "data": {"name": "fit"},
      "mark": {"type": "point", "shape": "circle", "filled": true, "size": 120, "color": "#ff0000", "opacity": 1, "strokeWidth": 0},
      "encoding": {
        "x": {
          "field": "lat",
          "type": "quantitative",
          "axis": {
            "orient": "top",
            "title": null,
            "labels": false,
            "values": [-90, -85, -80, -75, -70, -65, -60, -55, -50, -45, -40, -35, -30, -25, -20, -15, -10, -5, 0, 5, 10, 15, 20, 25, 30, 35, 40, 45, 50, 55, 60, 65, 70, 75, 80, 85, 90],
            "tickSize": {"condition": {"test": "datum.value % 30 === 0", "value": -111}, "value": -57}
          }
        },
        "y": {
          "field": "r",
          "type": "quantitative",
          "axis": {
            "orient": "right",
            "title": null,
            "labels": false,
            "values": [6045, 6046, 6047, 6048, 6049, 6050, 6051, 6052, 6053, 6054, 6055, 6056, 6057, 6058, 6059, 6060, 6061, 6062, 6063, 6064, 6065],
            "tickSize": {"condition": {"test": "datum.value % 5 === 0", "value": -111}, "value": -57}
          }
        }
      }
    }
  ],
  "resolve": {"axis": {"x": "independent", "y": "independent"}},
  "config": {
    "view": {"stroke": null},
    "axis": {
      "grid": false,
      "domainColor": "#000000",
      "domainWidth": 5,
      "tickColor": "#000000",
      "tickWidth": 4,
      "labelFont": "DejaVu Sans",
      "labelFontSize": 78,
      "labelColor": "#000000",
      "labelFlush": false,
      "labelOverlap": false,
      "titleFont": "DejaVu Sans",
      "titleFontSize": 78,
      "titleFontWeight": "normal",
      "titleColor": "#000000"
    }
  }
}
